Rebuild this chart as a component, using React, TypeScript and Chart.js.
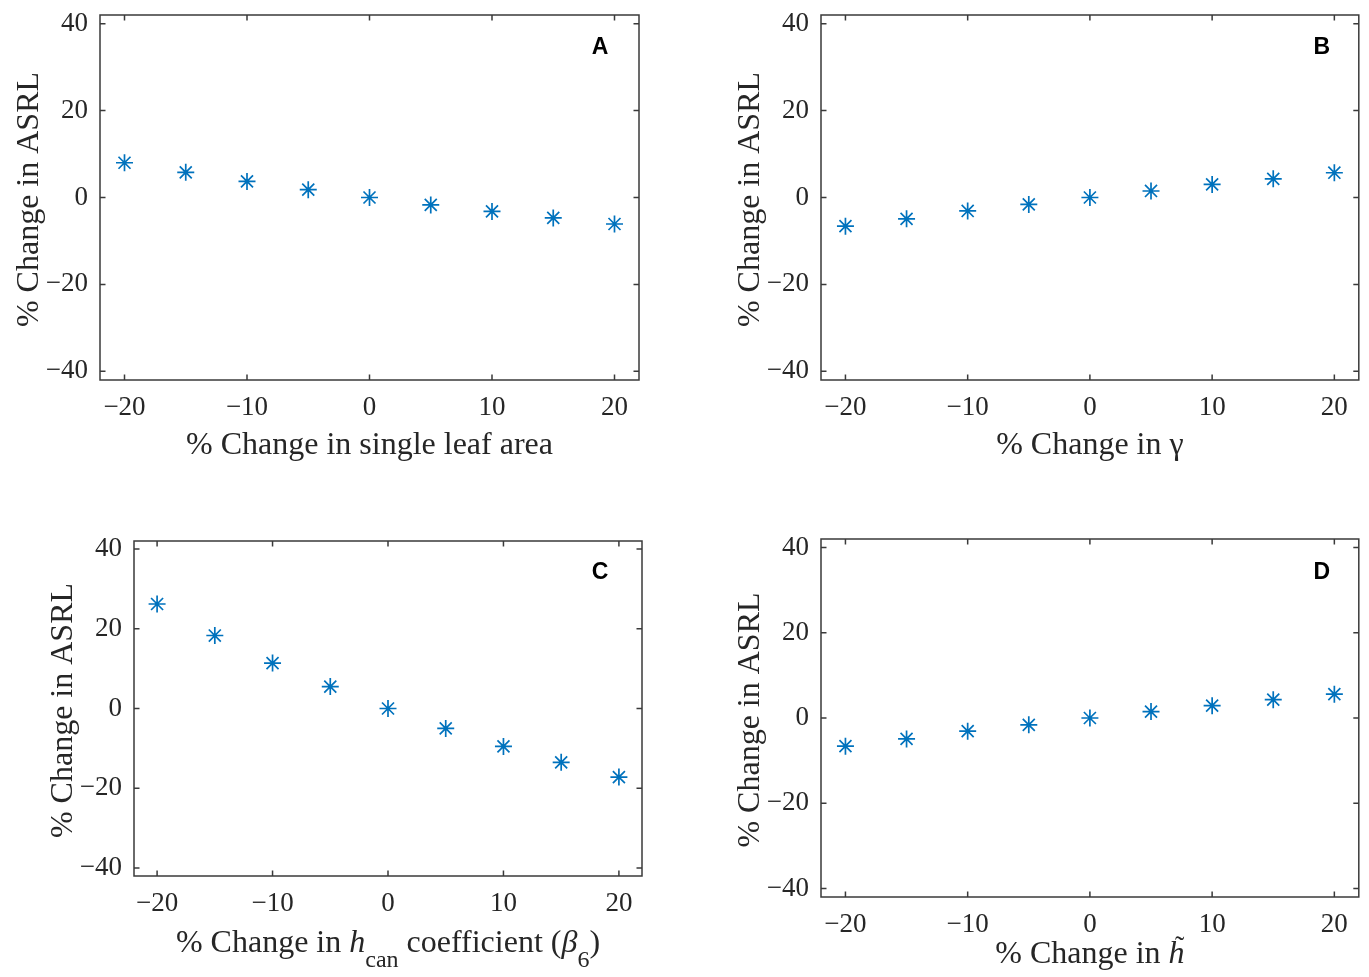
import React, { useEffect, useRef } from 'react';
import { Chart, registerables } from 'chart.js';

Chart.register(...registerables);

// ---------- data ----------
const xValues = [-20, -15, -10, -5, 0, 5, 10, 15, 20];
const seriesA = [8.0, 5.8, 3.7, 1.8, 0, -1.7, -3.2, -4.7, -6.1];
const seriesB = [-6.6, -4.9, -3.1, -1.6, 0, 1.5, 3.0, 4.3, 5.7];
const seriesC = [26.2, 18.3, 11.4, 5.5, 0, -5.0, -9.5, -13.5, -17.2];
const seriesD = [-6.6, -4.9, -3.1, -1.6, 0, 1.5, 2.9, 4.3, 5.6];
const xTicks = [-20, -10, 0, 10, 20];
const yTicks = [-40, -20, 0, 20, 40];
const xRange = [-22, 22];
const yRange = [-42, 42];
const panelLetters = ['A', 'B', 'C', 'D'];
const yTitle = '% Change in ASRL';

type Seg = { t: string; i?: boolean; sub?: boolean; tilde?: boolean };
const xTitleA: Seg[] = [{ t: '% Change in single leaf area' }];
const xTitleB: Seg[] = [{ t: '% Change in γ' }];
const xTitleC: Seg[] = [
  { t: '% Change in ' },
  { t: 'h', i: true },
  { t: 'can', sub: true },
  { t: ' coefficient (' },
  { t: 'β', i: true },
  { t: '6', sub: true },
  { t: ')' },
];
const xTitleD: Seg[] = [{ t: '% Change in ' }, { t: 'h', i: true, tilde: true }];

// ---------- layout / style ----------
const MARKER = '#0072BD';
const AXIS = '#262626';
const SERIF = '"Liberation Serif", "Times New Roman", serif';

type Box = { l: number; t: number; w: number; h: number };
type Area = { l: number; r: number; t: number; b: number };
type PanelCfg = {
  letter: string;
  series: number[];
  xTitle: Seg[];
  canvas: Box;
  area: Area;
  titleDy: number;
  letterDx: number;
  letterDy: number;
};

const panels: PanelCfg[] = [
  { letter: panelLetters[0], series: seriesA, xTitle: xTitleA, canvas: { l: 0, t: 0, w: 684, h: 488 }, area: { l: 100, r: 639, t: 15, b: 380 }, titleDy: 74, letterDx: 39, letterDy: 33 },
  { letter: panelLetters[1], series: seriesB, xTitle: xTitleB, canvas: { l: 684, t: 0, w: 685, h: 488 }, area: { l: 821, r: 1361, t: 15, b: 380 }, titleDy: 74, letterDx: 37, letterDy: 33 },
  { letter: panelLetters[2], series: seriesC, xTitle: xTitleC, canvas: { l: 0, t: 488, w: 684, h: 489 }, area: { l: 134, r: 642, t: 541, b: 876 }, titleDy: 76, letterDx: 42, letterDy: 32 },
  { letter: panelLetters[3], series: seriesD, xTitle: xTitleD, canvas: { l: 684, t: 488, w: 685, h: 489 }, area: { l: 821, r: 1361, t: 539, b: 897 }, titleDy: 66, letterDx: 37, letterDy: 34 },
];

const fmt = (v: number) => (v < 0 ? '\u2212' + Math.abs(v) : String(v));

function makeFramePlugin(cfg: PanelCfg) {
  return {
    id: 'frame' + cfg.letter,
    afterDraw(chart: any) {
      const ctx: CanvasRenderingContext2D = chart.ctx;
      const ca = chart.chartArea;
      const xs = chart.scales.x;
      const ys = chart.scales.y;
      ctx.save();
      // box
      ctx.strokeStyle = '#3a3a3a';
      ctx.lineWidth = 1.5;
      ctx.strokeRect(ca.left, ca.top, ca.right - ca.left, ca.bottom - ca.top);
      // inward ticks
      const tl = 5.5;
      ctx.beginPath();
      xTicks.forEach((v) => {
        const px = xs.getPixelForValue(v);
        ctx.moveTo(px, ca.bottom);
        ctx.lineTo(px, ca.bottom - tl);
        ctx.moveTo(px, ca.top);
        ctx.lineTo(px, ca.top + tl);
      });
      yTicks.forEach((v) => {
        const py = ys.getPixelForValue(v);
        ctx.moveTo(ca.left, py);
        ctx.lineTo(ca.left + tl, py);
        ctx.moveTo(ca.right, py);
        ctx.lineTo(ca.right - tl, py);
      });
      ctx.stroke();

      // y title
      ctx.fillStyle = AXIS;
      ctx.save();
      ctx.translate(ca.left - 62, (ca.top + ca.bottom) / 2 + 2);
      ctx.rotate(-Math.PI / 2);
      ctx.font = `32px ${SERIF}`;
      ctx.textAlign = 'center';
      ctx.textBaseline = 'alphabetic';
      ctx.fillText(yTitle, 0, 0);
      ctx.restore();

      // x title (rich)
      const mainFont = `32px ${SERIF}`;
      const italFont = `italic 32px ${SERIF}`;
      const subFont = `24px ${SERIF}`;
      const fontOf = (s: Seg) => (s.sub ? subFont : s.i ? italFont : mainFont);
      let total = 0;
      const widths = cfg.xTitle.map((s) => {
        ctx.font = fontOf(s);
        const w = ctx.measureText(s.t).width;
        total += w;
        return w;
      });
      const base = ca.bottom + cfg.titleDy;
      let x = (ca.left + ca.right) / 2 - total / 2;
      ctx.textAlign = 'left';
      ctx.textBaseline = 'alphabetic';
      cfg.xTitle.forEach((s, k) => {
        ctx.font = fontOf(s);
        ctx.fillText(s.t, x, s.sub ? base + 15 : base);
        if (s.tilde) {
          ctx.font = `28px ${SERIF}`;
          ctx.textAlign = 'center';
          ctx.fillText('\u02DC', x + widths[k] / 2 + 3, base - 8);
          ctx.textAlign = 'left';
        }
        x += widths[k];
      });

      // panel letter
      ctx.fillStyle = '#000';
      ctx.font = `bold 23px "Liberation Sans", Arial, sans-serif`;
      ctx.textAlign = 'center';
      ctx.textBaseline = 'middle';
      ctx.fillText(cfg.letter, ca.right - cfg.letterDx, ca.top + cfg.letterDy);
      ctx.restore();
    },
  };
}

function Panel({ cfg }: { cfg: PanelCfg }) {
  const ref = useRef<HTMLCanvasElement>(null);
  useEffect(() => {
    const c = cfg.canvas;
    const a = cfg.area;
    const chart = new Chart(ref.current as HTMLCanvasElement, {
      type: 'scatter',
      data: {
        datasets: [
          {
            data: xValues.map((x, i) => ({ x, y: cfg.series[i] })),
            pointStyle: 'star',
            pointRadius: 8.5,
            pointHoverRadius: 8.5,
            borderColor: MARKER,
            backgroundColor: MARKER,
            pointBorderWidth: 1.7,
            showLine: false,
          } as any,
        ],
      },
      options: {
        animation: false,
        responsive: false,
        maintainAspectRatio: false,
        events: [],
        layout: { padding: { left: 0, top: a.t - c.t, right: c.l + c.w - a.r, bottom: 0 } },
        plugins: { legend: { display: false }, tooltip: { enabled: false } },
        scales: {
          x: {
            type: 'linear',
            position: 'bottom',
            min: xRange[0],
            max: xRange[1],
            grid: { display: false, drawTicks: false },
            border: { display: false },
            ticks: {
              padding: 12,
              color: AXIS,
              font: { family: SERIF, size: 27 },
              maxRotation: 0,
              callback: (v: any) => fmt(Number(v)),
            },
            afterBuildTicks: (s: any) => {
              s.ticks = xTicks.map((v) => ({ value: v }));
            },
            afterFit: (s: any) => {
              s.height = c.t + c.h - a.b;
              s.paddingLeft = 0;
              s.paddingRight = 0;
            },
          },
          y: {
            type: 'linear',
            position: 'left',
            min: yRange[0],
            max: yRange[1],
            grid: { display: false, drawTicks: false },
            border: { display: false },
            ticks: {
              padding: 12,
              color: AXIS,
              font: { family: SERIF, size: 27 },
              callback: (v: any) => fmt(Number(v)),
            },
            afterBuildTicks: (s: any) => {
              s.ticks = yTicks.map((v) => ({ value: v }));
            },
            afterFit: (s: any) => {
              s.width = a.l - c.l;
              s.paddingTop = 0;
              s.paddingBottom = 0;
            },
          },
        },
      },
      plugins: [makeFramePlugin(cfg)],
    });
    return () => chart.destroy();
  }, [cfg]);
  const c = cfg.canvas;
  return (
    <canvas
      ref={ref}
      width={c.w}
      height={c.h}
      style={{ position: 'absolute', left: c.l, top: c.t, width: c.w, height: c.h, display: 'block' }}
    />
  );
}

export default function App() {
  return (
    <div style={{ position: 'absolute', left: 0, top: 0, width: 1369, height: 977, background: '#fff', overflow: 'hidden' }}>
      {panels.map((p) => (
        <Panel key={p.letter} cfg={p} />
      ))}
    </div>
  );
}
